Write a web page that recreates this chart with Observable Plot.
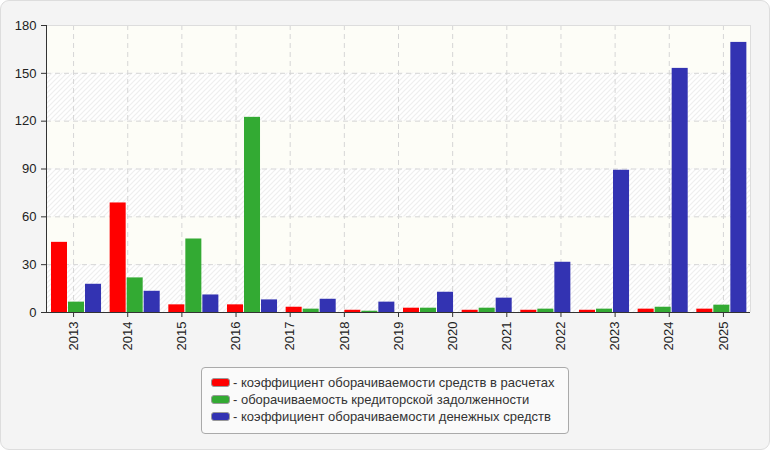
<!DOCTYPE html>
<html>
<head>
<meta charset="utf-8">
<script src="https://cdn.jsdelivr.net/npm/d3@7"></script>
<script src="https://cdn.jsdelivr.net/npm/@observablehq/plot@0.6"></script>
<style>
  html, body { margin: 0; padding: 0; background: #ffffff; }
  body { font-family: Arial, "Liberation Sans", sans-serif; }
  #frame { position: absolute; left: 0; top: 0; width: 770px; height: 450px; box-sizing: border-box;
           background: #f4f4f4; border: 1.5px solid #dddddd; border-radius: 9px; }
  #chart { position: absolute; left: 0; top: 0; width: 770px; }
  #legend { position: absolute; left: 201px; top: 367px; width: 368px; height: 67px; box-sizing: border-box;
            background: #fafafa; border: 1px solid #aaaaaa; border-radius: 4px; padding: 6px 0 0 9px; }
  .row { height: 17px; line-height: 17px; font-size: 13px; color: #333333; white-space: nowrap; }
  .sw { display: inline-block; width: 17px; height: 7px; border: 1px solid #999999; border-radius: 3px;
        vertical-align: middle; margin-right: 3px; position: relative; top: -1px; }
</style>
</head>
<body>
<div id="frame"></div>
<div id="chart"></div>
<div id="legend"></div>
<script>
// ---- data ----
const years = ["2013","2014","2015","2016","2017","2018","2019","2020","2021","2022","2023","2024","2025"];
const seriesNames = [
  "коэффициент оборачиваемости средств в расчетах",
  "оборачиваемость кредиторской задолженности",
  "коэффициент оборачиваемости денежных средств"
];
const seriesColors = ["#ff0000", "#33aa33", "#3333b2"];
const receivablesTurnover = [44.0, 68.7, 4.8, 4.8, 3.3, 1.4, 2.7, 1.4, 1.4, 1.4, 2.1, 2.1];
const payablesTurnover    = [6.5, 21.7, 46.1, 122.4, 2.1, 0.8, 2.7, 2.7, 2.1, 2.1, 3.3, 4.6];
const cashTurnover        = [17.7, 13.3, 11.0, 7.9, 8.3, 6.5, 12.7, 9.0, 31.5, 89.2, 153.1, 169.4];
const yTicks = [0, 30, 60, 90, 120, 150, 180];

// ---- derived tables ----
const seriesValues = [receivablesTurnover, payablesTurnover, cashTurnover];
const nGroups = receivablesTurnover.length;
const groupPad = 0.085, barStep = 0.29, barWidth = 0.273;
const bars = [];
seriesValues.forEach((vals, j) => vals.forEach((v, i) => {
  const x1 = i + groupPad + j * barStep;
  bars.push({series: seriesNames[j], value: v, x1, x2: x1 + barWidth});
}));
const tickPos = years.map((y, k) => (k + 0.5) * nGroups / years.length);
const bands = d3.pairs(yTicks).map(([lo, hi], k) => ({lo, hi, hatched: k % 2 === 0}));

const chart = Plot.plot({
  width: 770,
  height: 355,
  marginLeft: 46,
  marginRight: 20,
  marginTop: 25,
  marginBottom: 43,
  style: {fontSize: "13px", fontFamily: "Arial, 'Liberation Sans', sans-serif", background: "transparent", color: "#222"},
  x: {type: "linear", domain: [0, nGroups]},
  y: {domain: [0, 180]},
  color: {domain: seriesNames, range: seriesColors},
  marks: [
    Plot.rect(bands.filter(d => !d.hatched), {x1: 0, x2: nGroups, y1: "lo", y2: "hi", fill: "#fdfdf7"}),
    Plot.rect(bands.filter(d => d.hatched), {x1: 0, x2: nGroups, y1: "lo", y2: "hi", fill: "url(#hatch)"}),
    Plot.gridY({ticks: yTicks.slice(1, -1), stroke: "#d6d6d6", strokeOpacity: 1, strokeDasharray: "5,4"}),
    Plot.gridX({ticks: tickPos, stroke: "#d6d6d6", strokeOpacity: 1, strokeDasharray: "5,4"}),
    Plot.ruleY([180], {stroke: "#dddddd"}),
    Plot.ruleX([nGroups], {stroke: "#dddddd"}),
    Plot.rect(bars, {x1: "x1", x2: "x2", y1: 0, y2: "value", fill: "series"}),
    Plot.ruleY([0], {stroke: "#333"}),
    Plot.ruleX([0], {stroke: "#333"}),
    Plot.axisY({ticks: yTicks, tickSize: 5, tickPadding: 5, label: null, stroke: "#333"}),
    Plot.axisX({ticks: tickPos, tickFormat: d => years[tickPos.indexOf(d)], tickRotate: -90,
                tickSize: 5, tickPadding: 4, label: null, stroke: "#333"})
  ]
});

// hatch pattern definition
const svg = d3.select(chart);
const defs = svg.insert("defs", ":first-child");
const pat = defs.append("pattern").attr("id", "hatch").attr("patternUnits", "userSpaceOnUse")
  .attr("width", 5).attr("height", 5);
pat.append("rect").attr("width", 5).attr("height", 5).attr("fill", "#ffffff");
pat.append("path").attr("d", "M0,5L5,0M-1,1L1,-1M4,6L6,4").attr("stroke", "#efefef").attr("stroke-width", 1.2);

document.getElementById("chart").appendChild(chart);

// legend
const legend = d3.select("#legend");
seriesNames.forEach((name, j) => {
  const row = legend.append("div").attr("class", "row");
  row.append("span").attr("class", "sw").style("background", seriesColors[j]);
  row.append("span").text("- " + name);
});
</script>
</body>
</html>
